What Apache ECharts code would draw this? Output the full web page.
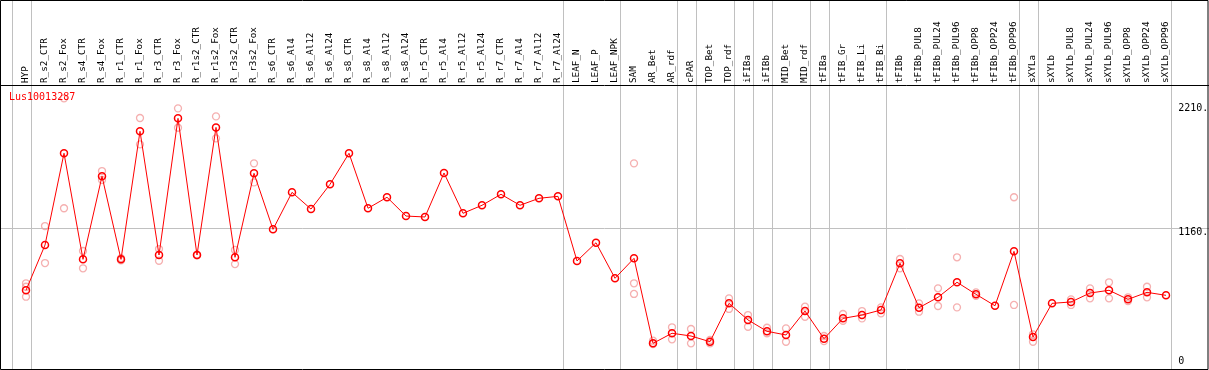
<!DOCTYPE html>
<html>
<head>
<meta charset="utf-8">
<script src="https://cdn.jsdelivr.net/npm/echarts@6/dist/echarts.min.js"></script>
<style>
html,body{margin:0;padding:0;background:#fff;}
#chart{width:1209px;height:370px;}
</style>
</head>
<body>
<div id="chart"></div>
<script>
const seriesName = 'Lus10013287';
const categories = ['HYP','R_s2_CTR','R_s2_Fox','R_s4_CTR','R_s4_Fox','R_r1_CTR','R_r1_Fox','R_r3_CTR','R_r3_Fox','R_r1s2_CTR','R_r1s2_Fox','R_r3s2_CTR','R_r3s2_Fox','R_s6_CTR','R_s6_Al4','R_s6_Al12','R_s6_Al24','R_s8_CTR','R_s8_Al4','R_s8_Al12','R_s8_Al24','R_r5_CTR','R_r5_Al4','R_r5_Al12','R_r5_Al24','R_r7_CTR','R_r7_Al4','R_r7_Al12','R_r7_Al24','LEAF_N','LEAF_P','LEAF_NPK','SAM','AR_Bet','AR_rdf','cPAR','TOP_Bet','TOP_rdf','iFIBa','iFIBb','MID_Bet','MID_rdf','tFIBa','tFIB_Gr','tFIB_Li','tFIB_Bi','tFIBb','tFIBb_PUL8','tFIBb_PUL24','tFIBb_PUL96','tFIBb_OPP8','tFIBb_OPP24','tFIBb_OPP96','sXYLa','sXYLb','sXYLb_PUL8','sXYLb_PUL24','sXYLb_PUL96','sXYLb_OPP8','sXYLb_OPP24','sXYLb_OPP96'];
const meanValues = [619,1014,1815,889,1614,889,2007,927,2120,927,2041,907,1640,1151,1474,1328,1544,1815,1335,1431,1267,1259,1643,1291,1361,1457,1361,1422,1439,875,1034,724,898,156,244,220,170,505,360,261,229,438,196,374,403,447,855,467,558,689,584,484,959,211,505,517,595,619,540,601,575];
const rep1 = [680,1180,2295,962,1660,900,2123,979,2207,930,2137,971,1727,null,null,null,null,null,null,null,null,null,null,null,null,null,null,null,null,null,null,null,1727,179,296,281,185,549,403,292,287,476,220,412,438,470,892,505,636,907,600,null,1431,235,null,540,636,689,558,650,null];
const rep2 = [563,857,1335,811,1582,880,1893,877,2038,924,1945,848,1561,null,null,null,null,null,null,null,null,null,null,null,null,null,null,null,null,null,null,null,587,150,191,156,156,456,301,244,170,388,175,353,374,418,811,432,482,470,570,null,491,170,null,491,549,549,525,558,null];
const rep3 = [650,null,null,null,null,null,null,null,null,null,null,null,null,null,null,null,null,null,null,null,null,null,null,null,null,null,null,null,null,null,null,null,680,null,null,null,null,null,null,null,null,null,null,null,null,null,null,null,null,null,null,null,null,null,null,null,null,null,null,null,null];
const groupEnds = [-1,0,28,31,34,35,37,38,39,41,42,45,52,53,60];
const yTickValues = [0,1160,2210];
const yTickLabels = ['0','1160.','2210.'];
const gridLineValue = 1160;

const W = 1209, H = 370;
const MONO = '"DejaVu Sans Mono", monospace';

const repData = [];
[rep1, rep2, rep3].forEach(arr => arr.forEach((v, i) => { if (v !== null) repData.push([i, v]); }));

const chart = echarts.init(document.getElementById('chart'), null, {renderer: 'canvas'});
chart.setOption({
  animation: false,
  backgroundColor: '#ffffff',
  grid: {left: 16.5, right: 33.5, top: 85, bottom: 1, containLabel: false},
  xAxis: {
    type: 'category',
    data: categories,
    position: 'top',
    boundaryGap: true,
    axisLine: {show: false},
    axisTick: {show: false},
    splitLine: {show: false},
    axisLabel: {show: true, interval: 0, rotate: 90, margin: 2, fontFamily: MONO, fontSize: 9.3, color: '#000'}
  },
  yAxis: {
    type: 'value',
    min: -68, max: 2411,
    axisLine: {show: false}, axisTick: {show: false}, axisLabel: {show: false}, splitLine: {show: false}
  },
  series: [
    {
      type: 'scatter', name: 'replicates', data: repData,
      symbol: 'circle', symbolSize: 7,
      itemStyle: {color: 'rgba(0,0,0,0)', borderColor: '#f29c9c', borderWidth: 1.3},
      z: 3
    },
    {
      type: 'line', name: seriesName, data: meanValues,
      symbol: 'circle', symbolSize: 7, showAllSymbol: true,
      lineStyle: {color: '#ff0000', width: 1},
      itemStyle: {color: 'rgba(0,0,0,0)', borderColor: '#ff0000', borderWidth: 1.5},
      z: 4
    }
  ]
});

const c0 = chart.convertToPixel({xAxisIndex: 0}, 0);
const band = chart.convertToPixel({xAxisIndex: 0}, 1) - c0;
const yPix = v => chart.convertToPixel({yAxisIndex: 0}, v);
const graphics = [];
groupEnds.forEach(i => {
  const x = Math.round(c0 + i * band + band * 0.25) + 0.5;
  graphics.push({type: 'line', z: 0, silent: true, shape: {x1: x, y1: 0, x2: x, y2: H}, style: {stroke: '#c0c0c0', lineWidth: 1}});
});
const gy = Math.round(yPix(gridLineValue)) + 0.5;
graphics.push({type: 'line', z: 0, silent: true, shape: {x1: 0, y1: gy, x2: W, y2: gy}, style: {stroke: '#c0c0c0', lineWidth: 1}});
// frame and label separator
graphics.push({type: 'rect', z: 20, silent: true, shape: {x: 0.5, y: 0.5, width: W - 1.5, height: H - 1}, style: {fill: null, stroke: '#000', lineWidth: 1}});
graphics.push({type: 'line', z: 20, silent: true, shape: {x1: 0, y1: 85.5, x2: W, y2: 85.5}, style: {stroke: '#000', lineWidth: 1}});
// y tick labels on the right
const labelX = chart.convertToPixel({xAxisIndex: 0}, categories.length - 1) + band * 0.25 + 7.5;
yTickValues.forEach((v, k) => {
  graphics.push({type: 'text', z: 21, silent: true, x: labelX, y: yPix(v) + (v === gridLineValue ? 4 : 0),
    style: {text: yTickLabels[k], fill: '#000', font: '10px ' + MONO, align: 'left', verticalAlign: 'middle'}});
});
// series name
graphics.push({type: 'text', z: 21, silent: true, x: 9, y: 97,
  style: {text: seriesName, fill: '#ff0000', font: '10px ' + MONO, align: 'left', verticalAlign: 'middle'}});
chart.setOption({graphic: graphics});
</script>
</body>
</html>
